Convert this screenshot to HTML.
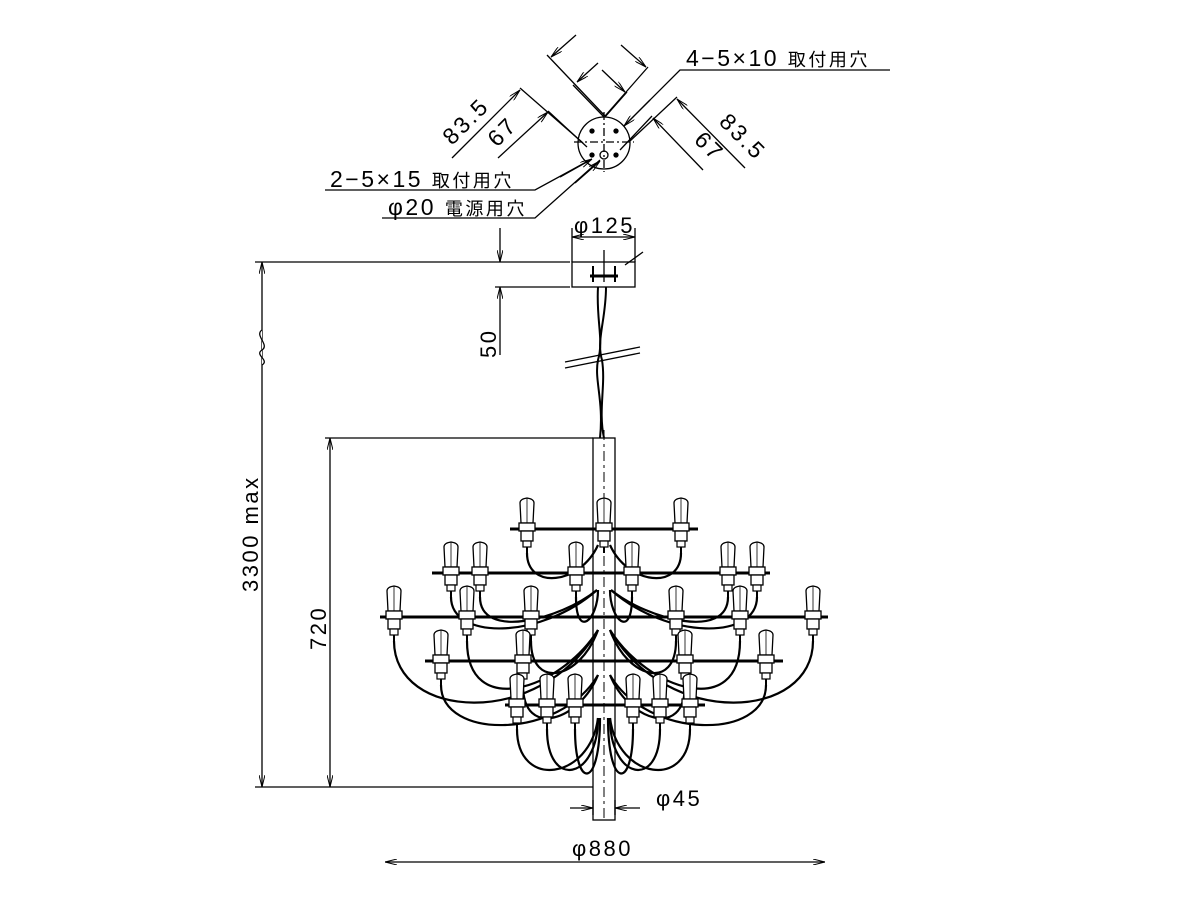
<!DOCTYPE html>
<html><head><meta charset="utf-8"><style>
html,body{margin:0;padding:0;background:#fff}
svg{display:block}
text{font-family:"Liberation Sans","Noto Sans CJK JP",sans-serif;fill:#000;letter-spacing:2.5px}
</style></head><body>
<svg width="1200" height="900" viewBox="0 0 1200 900" xmlns="http://www.w3.org/2000/svg">
<defs>
<marker id="a" viewBox="0 0 12 6" refX="12" refY="3" markerWidth="12" markerHeight="6" orient="auto" markerUnits="userSpaceOnUse"><path d="M0,0 L12,3 L0,6" fill="none" stroke="#000" stroke-width="1"/></marker>
<g id="b">
<path d="M-7,-26 Q-7,-30 0,-31 Q7,-30 7,-26 L6,-6 L-6,-6 Z" fill="#fff" stroke="#000" stroke-width="1.3"/>
<line x1="0" y1="-31" x2="0" y2="-6" stroke="#000" stroke-width="0.8"/>
<rect x="-8" y="-6" width="16" height="8" fill="#fff" stroke="#000" stroke-width="1.3"/>
<rect x="-6" y="2" width="12" height="10" fill="#fff" stroke="#000" stroke-width="1.3"/>
<rect x="-4" y="12" width="8" height="6" fill="#fff" stroke="#000" stroke-width="1.2"/>
<line x1="0" y1="18" x2="0" y2="24" stroke="#000" stroke-width="2"/>
</g>
</defs>
<g stroke="#000" fill="none" stroke-width="1.3">
<circle cx="604" cy="143" r="26"/>
<line x1="604" y1="112" x2="604" y2="172" stroke-dasharray="8,3,2,3"/>
<line x1="574" y1="142" x2="634" y2="142" stroke-dasharray="8,3,2,3"/>
<circle cx="604" cy="155" r="4"/>
<circle cx="592" cy="131" r="2" fill="#000"/><circle cx="616" cy="131" r="2" fill="#000"/>
<circle cx="592" cy="155" r="2" fill="#000"/><circle cx="616" cy="155" r="2" fill="#000"/>
<line x1="547" y1="55" x2="605" y2="116"/><line x1="573" y1="85" x2="604" y2="117"/>
<line x1="648" y1="67" x2="605" y2="116"/><line x1="627" y1="92" x2="605" y2="117"/>
<line x1="576" y1="35" x2="551" y2="57" marker-end="url(#a)"/>
<line x1="598" y1="63" x2="577" y2="82" marker-end="url(#a)"/>
<line x1="602" y1="70" x2="625" y2="92" marker-end="url(#a)"/>
<line x1="621" y1="45" x2="646" y2="67" marker-end="url(#a)"/>
<line x1="520" y1="88" x2="583" y2="143"/><line x1="452" y1="158" x2="520" y2="90" marker-end="url(#a)"/>
<line x1="548" y1="111" x2="587" y2="147"/><line x1="498" y1="158" x2="548" y2="112" marker-end="url(#a)"/>
<line x1="677" y1="97" x2="630" y2="141"/><line x1="745" y1="168" x2="677" y2="99" marker-end="url(#a)"/>
<line x1="652" y1="116" x2="620" y2="150"/><line x1="703" y1="170" x2="653" y2="118" marker-end="url(#a)"/>
<polyline points="890,70 680,70 626,124"/><line x1="650" y1="100" x2="624" y2="126" marker-end="url(#a)"/>
<polyline points="325,190 535,190 590,160"/><line x1="560" y1="177" x2="592" y2="159" marker-end="url(#a)"/>
<polyline points="382,218 535,218 600,160"/><line x1="575" y1="183" x2="600" y2="161" marker-end="url(#a)"/>
<rect x="572" y="262" width="63" height="25"/>
<line x1="572" y1="228" x2="572" y2="262"/><line x1="635" y1="228" x2="635" y2="262"/>
<line x1="604" y1="237" x2="572" y2="237" marker-end="url(#a)"/><line x1="604" y1="237" x2="635" y2="237" marker-end="url(#a)"/>
<line x1="604" y1="250" x2="604" y2="282"/>
<line x1="590" y1="276" x2="618" y2="276" stroke-width="3"/>
<line x1="593" y1="266" x2="593" y2="282" stroke-width="2"/><line x1="615" y1="266" x2="615" y2="282" stroke-width="2"/>
<line x1="625" y1="265" x2="643" y2="252"/>
<path d="M598,287 C596,320 604,340 598,360 C594,380 604,400 600,438" stroke-width="2"/>
<path d="M606,287 C606,320 596,340 602,360 C606,385 598,410 604,438" stroke-width="2"/>
<line x1="565" y1="362" x2="640" y2="347"/><line x1="565" y1="368" x2="640" y2="353"/>
<line x1="255" y1="262" x2="570" y2="262"/>
<line x1="255" y1="787" x2="595" y2="787"/>
<line x1="262" y1="525" x2="262" y2="262" marker-end="url(#a)"/>
<line x1="262" y1="525" x2="262" y2="787" marker-end="url(#a)"/>
<path d="M262,330 c-8,5 8,15 0,20 c-8,5 8,10 0,15" fill="#fff"/>
<line x1="325" y1="438" x2="593" y2="438"/>
<line x1="330" y1="612" x2="330" y2="438" marker-end="url(#a)"/>
<line x1="330" y1="612" x2="330" y2="787" marker-end="url(#a)"/>
<line x1="495" y1="287" x2="570" y2="287"/>
<line x1="500" y1="228" x2="500" y2="262" marker-end="url(#a)"/>
<line x1="500" y1="355" x2="500" y2="287" marker-end="url(#a)"/>
<rect x="593" y="438" width="22" height="382" fill="#fff"/>
<line x1="604" y1="430" x2="604" y2="822" stroke-dasharray="10,4,3,4" stroke-width="1"/>
<g stroke-width="3">
<line x1="510" y1="529" x2="698" y2="529"/>
<line x1="432" y1="573" x2="770" y2="573"/>
<line x1="380" y1="617" x2="828" y2="617"/>
<line x1="425" y1="661" x2="783" y2="661"/>
<line x1="505" y1="705" x2="705" y2="705"/>
</g>
<g stroke-width="2.2">
<path d="M527,553 C527,590 580,585 598,545"/><path d="M681,553 C681,590 628,585 610,545"/>
<path d="M451,597 C451,640 540,640 597,590"/><path d="M480,597 C480,640 560,620 597,590"/>
<path d="M757,597 C757,640 668,640 611,590"/><path d="M728,597 C728,640 648,620 611,590"/>
<path d="M576,597 C576,640 598,620 598,590"/><path d="M632,597 C632,640 610,620 610,590"/>
<path d="M394,641 C394,720 540,730 598,630"/><path d="M467,641 C467,720 560,690 598,630"/>
<path d="M531,641 C531,690 580,680 598,630"/>
<path d="M813,641 C813,720 668,730 610,630"/><path d="M740,641 C740,720 648,690 610,630"/>
<path d="M676,641 C676,690 628,680 610,630"/>
<path d="M441,685 C441,740 560,740 598,675"/><path d="M523,685 C523,740 580,720 598,675"/>
<path d="M766,685 C766,740 648,740 610,675"/><path d="M685,685 C685,740 628,720 610,675"/>
<path d="M517,729 C517,790 590,780 598,718"/><path d="M547,729 C547,790 598,780 598,718"/><path d="M575,729 C575,790 600,790 600,718"/>
<path d="M690,729 C690,790 618,780 610,718"/><path d="M660,729 C660,790 610,780 610,718"/><path d="M633,729 C633,790 608,790 608,718"/>
</g>
<line x1="593" y1="800" x2="593" y2="815"/><line x1="615" y1="800" x2="615" y2="815"/>
<line x1="570" y1="808" x2="593" y2="808" marker-end="url(#a)"/>
<line x1="640" y1="808" x2="615" y2="808" marker-end="url(#a)"/>
<line x1="605" y1="862" x2="385" y2="862" marker-end="url(#a)"/>
<line x1="605" y1="862" x2="825" y2="862" marker-end="url(#a)"/>
</g>
<g>
<use href="#b" x="527" y="529"/><use href="#b" x="604" y="529"/><use href="#b" x="681" y="529"/>
<use href="#b" x="451" y="573"/><use href="#b" x="480" y="573"/><use href="#b" x="576" y="573"/><use href="#b" x="632" y="573"/><use href="#b" x="728" y="573"/><use href="#b" x="757" y="573"/>
<use href="#b" x="394" y="617"/><use href="#b" x="467" y="617"/><use href="#b" x="531" y="617"/><use href="#b" x="676" y="617"/><use href="#b" x="740" y="617"/><use href="#b" x="813" y="617"/>
<use href="#b" x="441" y="661"/><use href="#b" x="523" y="661"/><use href="#b" x="685" y="661"/><use href="#b" x="766" y="661"/>
<use href="#b" x="517" y="705"/><use href="#b" x="547" y="705"/><use href="#b" x="575" y="705"/><use href="#b" x="633" y="705"/><use href="#b" x="660" y="705"/><use href="#b" x="690" y="705"/>
</g>
<text x="686" y="66" font-size="23">4−5×10 <tspan font-size="18">取付用穴</tspan></text>
<text x="330" y="187" font-size="23">2−5×15 <tspan font-size="18">取付用穴</tspan></text>
<text x="388" y="215" font-size="23">φ20 <tspan font-size="18">電源用穴</tspan></text>
<text font-size="23" transform="translate(452,146) rotate(-45)">83.5</text>
<text font-size="23" transform="translate(497,148) rotate(-45)">67</text>
<text font-size="23" transform="translate(718,123) rotate(45)">83.5</text>
<text font-size="23" transform="translate(693,141) rotate(45)">67</text>
<text x="574" y="233" font-size="22">φ125</text>
<text font-size="22" transform="translate(496,358) rotate(-90)">50</text>
<text font-size="22" transform="translate(258,592) rotate(-90)">3300 max</text>
<text font-size="22" transform="translate(326,650) rotate(-90)">720</text>
<text x="656" y="806" font-size="22">φ45</text>
<text x="572" y="856" font-size="22">φ880</text>
</svg>
</body></html>
